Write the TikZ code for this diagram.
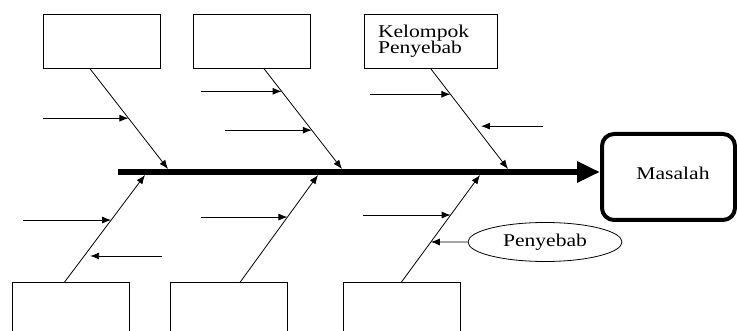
\documentclass[tikz,border=0pt]{standalone}
\usepackage{fontspec}
\setmainfont[FakeStretch=1.2]{Liberation Serif}
\usepackage{tikz}
\usetikzlibrary{arrows.meta,calc,shapes.geometric}
\tikzset{
    KT/.style ={rectangle,minimum width = 117pt, minimum height = 54pt, draw, line width=.8pt},
    MS/.style ={rectangle,rounded corners=12pt,minimum width = 133pt, minimum height = 86pt, draw, line width=4pt},
    EL/.style ={ellipse,minimum width = 154pt, minimum height = 39pt, draw, line width=.8pt},
    TL/.style ={-{Latex[length=9pt,width=7pt]}, line width=.8pt},
    DR/.style ={-{Triangle[length=23pt,width=20pt]}, line width=6pt}
}

\begin{document}
\begin{tikzpicture}[x=1pt,y=-1pt,font=\fontsize{18}{16.5}\selectfont]
        \clip (0,0) rectangle (737,331);
        \node[KT] (K1) at (101.5,41) {};
        \node[KT] (K2) at (252,41) {};
        \node[KT,minimum width=133pt,text width=105pt,align=left] (K3) at (430.5,41) {Kelompok\\Penyebab};
        \node[KT,anchor=north] (K4) at (70.5,282) {};
        \node[KT,anchor=north] (K5) at (228.5,282) {};
        \node[KT,anchor=north] (K6) at (401.5,282) {};
        \node[MS,label={[xshift=4.5pt,yshift=4pt]center:Masalah}] (M) at (668.5,177) {};
        \node[EL] (E) at (545,242) {Penyebab};
        \coordinate (S) at (118,172);
        \draw[DR] (S) -- (S -| M.west);
        \coordinate (P1) at ($(K1.south west)!.4!(K1.south east)$);
        \coordinate (P2) at ($(K2.south west)!.6!(K2.south east)$);
        \coordinate (P3) at (K3.south);
        \coordinate (P4) at ($(K4.north west)!.45!(K4.north east)$);
        \coordinate (P5) at ($(K5.north west)!.6!(K5.north east)$);
        \coordinate (P6) at (K6.north);
        \coordinate (Q1) at (168,169);
        \coordinate (Q2) at (342,169);
        \coordinate (Q3) at (508,169);
        \coordinate (Q4) at (145,175);
        \coordinate (Q5) at (318,175);
        \coordinate (Q6) at (480,175);
        \foreach \b in {1,...,6}
            \draw[TL] (P\b) -- (Q\b);
        \foreach \b/\f/\x [count=\i] in {1/.495/43, 2/.228/201, 2/.614/225, 3/.257/370, 4/.579/23, 5/.607/201, 6/.626/363}{
            \coordinate (T\i) at ($(P\b)!\f!(Q\b)$);
            \draw[TL] (\x,0 |- T\i) -- (T\i);}
        \coordinate (L1) at ($(P3)!.574!(Q3)+(6,0)$);
        \coordinate (L2) at ($(P4)!.243!(Q4)+(6,0)$);
        \coordinate (L6) at ($(P6)!.374!(Q6)$);
        \draw[TL] (543,0 |- L1) -- (L1);
        \draw[TL] (162,0 |- L2) -- (L2);
        \draw[TL] (E.west) -- (L6);
    \end{tikzpicture}
\end{document}
